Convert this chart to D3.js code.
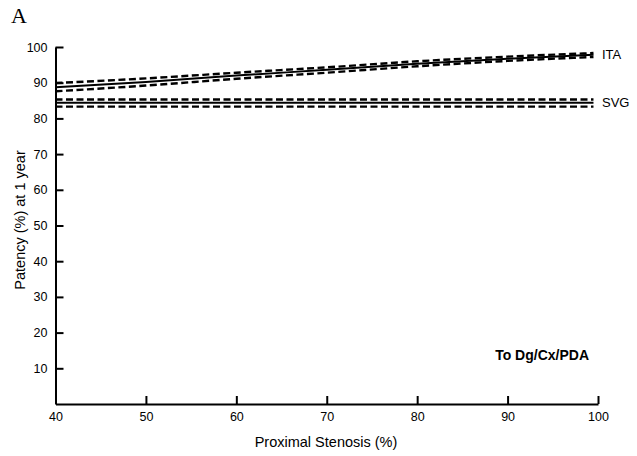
<!DOCTYPE html>
<html>
<head>
<meta charset="utf-8">
<script src="https://cdn.jsdelivr.net/npm/d3@7"></script>
<style>
  html, body { margin: 0; padding: 0; background: #fff; }
  svg { display: block; }
</style>
</head>
<body>
<div id="chart"></div>
<script>
// stenosis values where the curves were read
const stenosis = [40, 50, 60, 70, 80, 90, 99.5];

const itaMid   = [88.7, 90.2, 92.0, 93.6, 95.3, 96.7, 97.8];
const itaUpper = [89.9, 91.2, 92.8, 94.3, 96.0, 97.3, 98.3];
const itaLower = [87.6, 89.2, 91.1, 92.8, 94.6, 96.1, 97.2];

const svgMid   = [84.4, 84.4, 84.4, 84.4, 84.4, 84.4, 84.4];
const svgUpper = [85.3, 85.3, 85.3, 85.3, 85.3, 85.3, 85.3];
const svgLower = [83.3, 83.3, 83.3, 83.3, 83.3, 83.3, 83.3];

const xTicks = [40, 50, 60, 70, 80, 90, 100];
const yTicks = [10, 20, 30, 40, 50, 60, 70, 80, 90, 100];

const seriesLabels = ['ITA', 'SVG'];

const width = 637, height = 456;
const margin = { top: 47, right: 39, bottom: 52, left: 55.5 };

const svg = d3.select('#chart').append('svg')
  .attr('width', width)
  .attr('height', height);

const x = d3.scaleLinear()
  .domain([40, 100])
  .range([margin.left, width - margin.right]);

const y = d3.scaleLinear()
  .domain([0, 100])
  .range([height - margin.bottom, margin.top]);

const font = 'Liberation Sans, Arial, Helvetica, sans-serif';

// Axes (ticks point inward)
const xAxis = svg.append('g')
  .attr('transform', `translate(0,${y(0)})`)
  .call(d3.axisBottom(x).tickValues(xTicks).tickSize(-8).tickSizeOuter(0).tickPadding(6));

const yAxis = svg.append('g')
  .attr('transform', `translate(${x(40)},0)`)
  .call(d3.axisLeft(y).tickValues(yTicks).tickSize(-8).tickSizeOuter(0).tickPadding(8));

[xAxis, yAxis].forEach(ax => {
  ax.select('.domain').attr('stroke', '#000').attr('stroke-width', 2);
  ax.selectAll('.tick line').attr('stroke', '#000').attr('stroke-width', 2);
  ax.selectAll('text')
    .style('font-family', font)
    .style('font-size', '12.5px')
    .attr('fill', '#000');
});
xAxis.selectAll('text').attr('dy', '0.9em');
// the x-axis tick at 40 coincides with the y axis
xAxis.selectAll('.tick').filter(d => d === 40).select('line').remove();

// Curves
const line = d3.line()
  .x(d => x(d[0]))
  .y(d => y(d[1]))
  .curve(d3.curveMonotoneX);

const pairs = vals => stenosis.map((s, i) => [s, vals[i]]);

const curves = [
  { vals: itaUpper, dashed: true },
  { vals: itaLower, dashed: true },
  { vals: itaMid, dashed: false },
  { vals: svgUpper, dashed: true },
  { vals: svgLower, dashed: true },
  { vals: svgMid, dashed: false }
];

svg.append('g')
  .selectAll('path')
  .data(curves)
  .join('path')
  .attr('d', d => line(pairs(d.vals)))
  .attr('fill', 'none')
  .attr('stroke', '#000')
  .attr('stroke-width', d => d.dashed ? 2.4 : 2)
  .attr('stroke-dasharray', d => d.dashed ? '7,3.5' : null);

// Series labels at the right end
const lastIdx = stenosis.length - 1;
svg.append('g')
  .selectAll('text')
  .data([
    { name: seriesLabels[0], v: itaMid[lastIdx] },
    { name: seriesLabels[1], v: svgMid[lastIdx] }
  ])
  .join('text')
  .attr('x', x(100) + 4)
  .attr('y', d => y(d.v))
  .attr('dy', '0.35em')
  .style('font-family', font)
  .style('font-size', '13px')
  .text(d => d.name);

// Axis titles
svg.append('text')
  .attr('x', 326)
  .attr('y', 447)
  .attr('text-anchor', 'middle')
  .style('font-family', font)
  .style('font-size', '14.5px')
  .text('Proximal Stenosis (%)');

svg.append('text')
  .attr('transform', `translate(25,220) rotate(-90)`)
  .attr('text-anchor', 'middle')
  .style('font-family', font)
  .style('font-size', '14.5px')
  .text('Patency (%) at 1 year');

// Panel annotation
svg.append('text')
  .attr('x', 589)
  .attr('y', 360)
  .attr('text-anchor', 'end')
  .style('font-family', font)
  .style('font-size', '14px')
  .style('font-weight', 'bold')
  .text('To Dg/Cx/PDA');

// Panel letter
svg.append('text')
  .attr('x', 11)
  .attr('y', 23)
  .style('font-family', 'Liberation Serif, Times New Roman, serif')
  .style('font-size', '22px')
  .text('A');
</script>
</body>
</html>
